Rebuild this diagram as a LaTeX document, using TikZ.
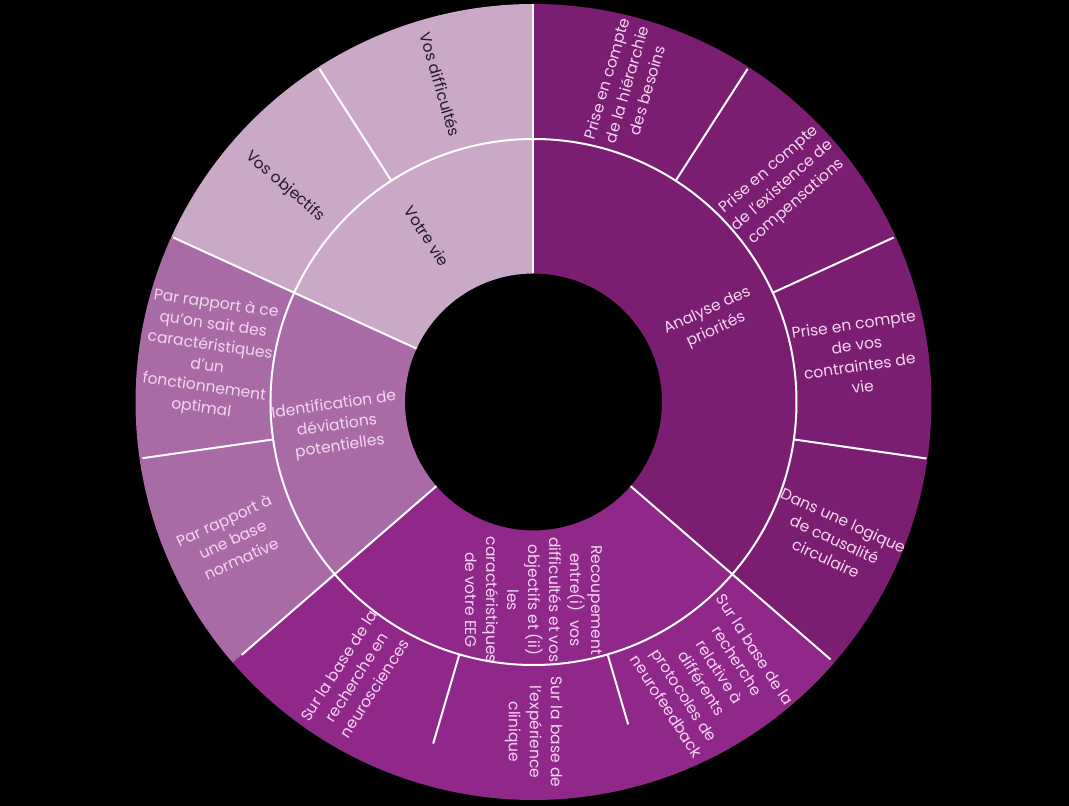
\documentclass[tikz,border=0pt]{standalone}
\usepackage{fontspec}
\setmainfont{Poppins}
\usepackage{tikz}
\definecolor{VieMauve}{HTML}{C9A9C6}
\definecolor{DevOrchid}{HTML}{A96BA6}
\definecolor{PrioPlum}{HTML}{7B1E72}
\definecolor{CrossMagenta}{HTML}{902889}
\definecolor{LabelPink}{HTML}{F5D6F1}
\definecolor{LabelInk}{HTML}{241A23}
\tikzset{
  sepline/.style={draw=white,line width=2pt},
  lbl/.style={align=center,inner sep=0pt,text=LabelPink,
    font=\fontsize{15.5}{21}\selectfont},
  darklbl/.style={lbl,text=LabelInk}
}
% colour, inner radius, outer radius, start angle, end angle
\newcommand{\ringpart}[5]{%
  \fill[#1] (#4:#2) arc[start angle=#4,end angle=#5,radius=#2]
    -- (#5:#3) arc[start angle=#5,end angle=#4,radius=#3] -- cycle;}

\begin{document}
\begin{tikzpicture}[x=1pt,y=1pt]
      \fill[black] (-533.5,-404) rectangle (535.5,402);
      \useasboundingbox (-533.5,-404) rectangle (535.5,402);

      % inner ring
      \ringpart{PrioPlum}{128.5}{263}{90}{-40.909}
      \ringpart{CrossMagenta}{128.5}{263}{-40.909}{-139.091}
      \ringpart{DevOrchid}{128.5}{263}{-139.091}{-204.545}
      \ringpart{VieMauve}{128.5}{263}{-204.545}{-270}
      \node[lbl,rotate=24.545] (prio) at (24.545:196) {Analyse des\\priorités};
      \node[lbl,rotate=-90] (cross) at (-90:198) {Recoupement\\entre(i)\ \ vos\\difficultés et vos\\objectifs et (ii)\\les\\caractéristiques\\de votre EEG};
      \node[lbl,rotate=8.182] (devi) at (187:198) {Identification de\\déviations\\potentielles};
      \node[darklbl,rotate=-57.273] (vie) at (122.727:197) {Votre vie};

      % outer ring
      \ringpart{PrioPlum}{263}{398}{90}{-40.909}
      \ringpart{CrossMagenta}{263}{398}{-40.909}{-139.091}
      \ringpart{DevOrchid}{263}{398}{-139.091}{-204.545}
      \ringpart{VieMauve}{263}{398}{-204.545}{-270}

      % separators
      \draw[sepline] (0,0) circle[radius=263];
      \foreach \a in {90,-40.909,-139.091,-204.545}
        \draw[sepline] (\a:128.5) -- (\a:263);
      \foreach \a/\r in {90/398,57.273/396,24.545/396,-8.182/397,-40.909/393,
          -73.636/336,-106.364/356,-139.091/386,-171.818/395,-204.545/396,-237.273/396}
        \draw[sepline] (\a:263) -- (\a:\r);

      \node[lbl,rotate=73.636] (besoins) at (73.636:331) {Prise en compte\\de la hiérarchie\\des besoins};
      \node[lbl,rotate=40.909] (compens) at (40.909:330) {Prise en compte\\de l’existence de\\compensations};
      \node[lbl,rotate=8.182] (contraintes) at (8.182:328) {Prise en compte\\de vos\\contraintes de\\vie};
      \node[lbl,rotate=-24.545] (causal) at (-24.545:331) {Dans une logique\\de causalité\\circulaire};
      \node[lbl,rotate=-57.273] (nfb) at (-57.273:328) {Sur la base de la\\recherche\\relative à\\différents\\protocoles de\\neurofeedback};
      \node[lbl,rotate=-90] (clinique) at (-90:330) {Sur la base de\\l’expérience\\clinique};
      \node[lbl,rotate=57.273] (neuro) at (237.273:327) {Sur la base de la\\recherche en\\neurosciences};
      \node[lbl,rotate=24.545] (norme) at (204.545:331) {Par rapport à\\une base\\normative};
      \node[lbl,rotate=-8.182] (optimal) at (172:328) {Par rapport à ce\\qu’on sait des\\caractéristiques\\d’un\\fonctionnement\\optimal};
      \node[darklbl,rotate=-40.909] (objectifs) at (139.091:329) {Vos objectifs};
      \node[darklbl,rotate=-73.636] (difficultes) at (106.364:331) {Vos difficultés};
    \end{tikzpicture}
\end{document}
